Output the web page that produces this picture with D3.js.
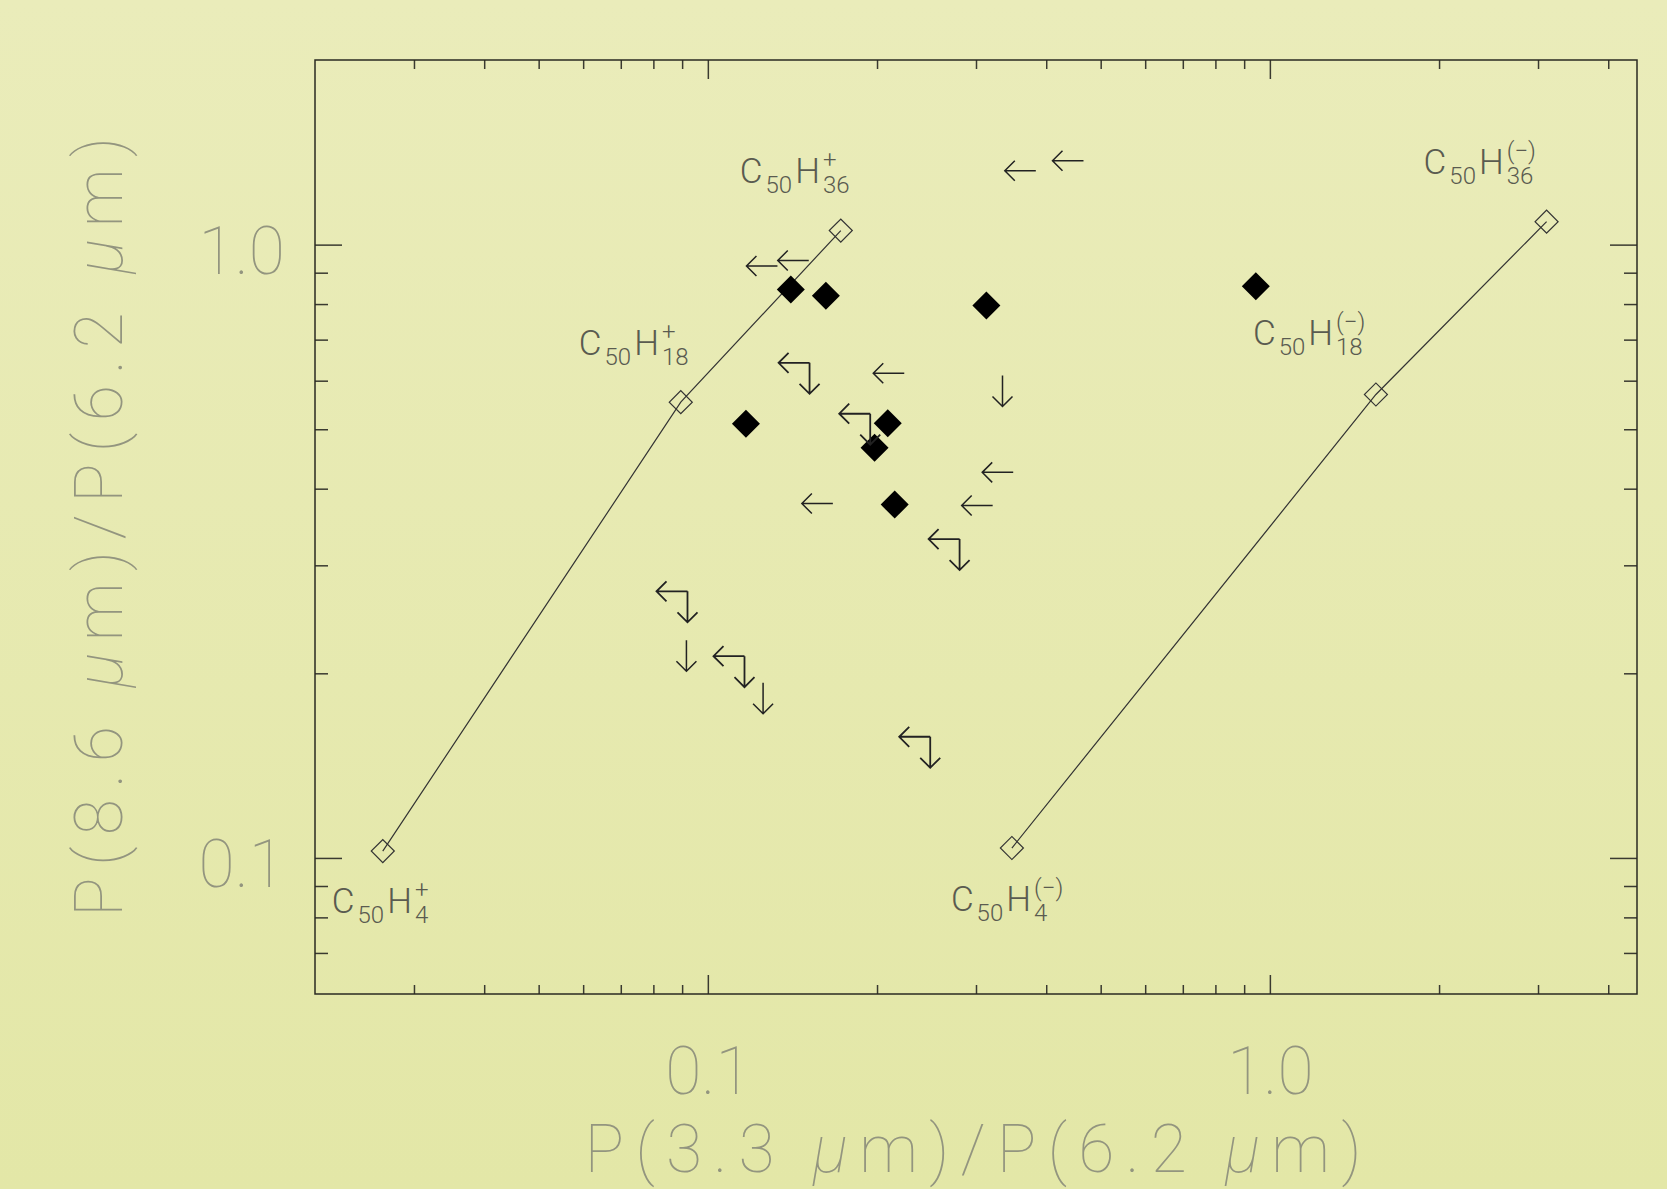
<!DOCTYPE html>
<html>
<head>
<meta charset="utf-8">
<script src="https://cdn.jsdelivr.net/npm/d3@7"></script>
<style>
  body { margin: 0; }
  svg { display: block; }
</style>
</head>
<body>
<div class="chart"></div>
<script>
// model tracks (open diamonds joined by lines)
const cationNames = ["4", "18", "36"];
const cationX = [0.0264, 0.0895, 0.1724];
const cationY = [0.1026, 0.5535, 1.054];
const anionNames = ["4", "18", "36"];
const anionX = [0.3475, 1.544, 3.107];
const anionY = [0.1038, 0.5697, 1.090];

// observed sources (filled diamonds)
const obsX = [0.1405, 0.1622, 0.313, 0.944, 0.1169, 0.209, 0.198, 0.215];
const obsY = [0.845, 0.825, 0.7955, 0.855, 0.5105, 0.5116, 0.4665, 0.3768];

// upper limit in x only (left arrows)
const limXx = [0.3833, 0.4660, 0.1330, 0.1512, 0.2236, 0.3494, 0.3212, 0.1669];
const limXy = [1.320, 1.370, 0.923, 0.942, 0.617, 0.4253, 0.3755, 0.3783];
// upper limit in y only (down arrows)
const limYx = [0.3344, 0.0916, 0.1254];
const limYy = [0.6119, 0.2265, 0.1930];
// upper limits in both
const limBx = [0.1517, 0.1945, 0.2805, 0.0920, 0.1162, 0.2487];
const limBy = [0.6416, 0.530, 0.3311, 0.2721, 0.2133, 0.1576];

// axes ticks
const xMajor = [0.1, 1];
const xMinor = [0.03, 0.04, 0.05, 0.06, 0.07, 0.08, 0.09, 0.2, 0.3, 0.4, 0.5, 0.6, 0.7, 0.8, 0.9, 2, 3, 4];
const yMajor = [0.1, 1];
const yMinor = [0.07, 0.08, 0.09, 0.2, 0.3, 0.4, 0.5, 0.6, 0.7, 0.8, 0.9];
const tickText = {0.1: "0.1", 1: "1.0"};

const width = 1667;
const height = 1189;
const margin = {top: 60, right: 30, bottom: 195, left: 315};

const svg = d3.select(".chart")
  .append("svg")
    .attr("width", width)
    .attr("height", height);

// page background gradient
const grad = svg.append("defs").append("linearGradient")
  .attr("id", "bg").attr("x1", 0).attr("y1", 0).attr("x2", 0).attr("y2", 1);
grad.append("stop").attr("offset", "0%").attr("stop-color", "#eaecba");
grad.append("stop").attr("offset", "100%").attr("stop-color", "#e3e7a7");
svg.append("rect").attr("width", width).attr("height", height).attr("fill", "url(#bg)");

const x = d3.scaleLog()
  .domain([0.02, 4.5])
  .range([margin.left, width - margin.right]);
const y = d3.scaleLog()
  .domain([0.06, 2.0])
  .range([height - margin.bottom, margin.top]);

const x0 = x.range()[0], x1 = x.range()[1];
const y0 = y.range()[1], y1 = y.range()[0];

const textGray = "#93957f";
const bigFont = "Roboto, 'DejaVu Sans', sans-serif";

// ticks pointing inside on every side
function tickAxis(axis, transform) {
  const g = svg.append("g")
    .attr("transform", transform)
    .call(axis);
  g.select(".domain").remove();
  g.selectAll("line").attr("stroke", "#3a3a30").attr("stroke-width", 1.5);
  return g;
}
tickAxis(d3.axisBottom(x).tickValues(xMinor).tickSize(-9).tickFormat(""), `translate(0,${y1})`);
tickAxis(d3.axisTop(x).tickValues(xMinor).tickSize(-9).tickFormat(""), `translate(0,${y0})`);
tickAxis(d3.axisTop(x).tickValues(xMajor).tickSize(-19).tickFormat(""), `translate(0,${y0})`);
tickAxis(d3.axisLeft(y).tickValues(yMinor).tickSize(-13).tickFormat(""), `translate(${x0},0)`);
tickAxis(d3.axisRight(y).tickValues(yMinor).tickSize(-13).tickFormat(""), `translate(${x1},0)`);
tickAxis(d3.axisRight(y).tickValues(yMajor).tickSize(-27).tickFormat(""), `translate(${x1},0)`);

const xAx = tickAxis(d3.axisBottom(x).tickValues(xMajor).tickSize(-19).tickPadding(53)
  .tickFormat(d => tickText[d]), `translate(0,${y1})`);
const yAx = tickAxis(d3.axisLeft(y).tickValues(yMajor).tickSize(-27).tickPadding(30)
  .tickFormat(d => tickText[d]), `translate(${x0},0)`);
[xAx, yAx].forEach(g => g.selectAll("text")
  .attr("fill", textGray)
  .style("font-family", bigFont)
  .style("font-weight", 100)
  .style("font-size", "66px"));
yAx.selectAll("text").attr("dy", "0.43em");

// frame
svg.append("rect")
  .attr("x", x0).attr("y", y0)
  .attr("width", x1 - x0).attr("height", y1 - y0)
  .attr("fill", "none")
  .attr("stroke", "#2a2a22")
  .attr("stroke-width", 1.5);

// axis titles
function title(sel, a, b) {
  sel.append("tspan").text(a);
  sel.append("tspan").style("font-style", "italic").text("\u03bc");
  sel.append("tspan").text(b);
  sel.append("tspan").style("font-style", "italic").text("\u03bc");
  sel.append("tspan").text("m)");
}
const xt = svg.append("text")
  .attr("x", 973).attr("y", 1172)
  .attr("text-anchor", "middle")
  .attr("textLength", 777).attr("lengthAdjust", "spacing")
  .attr("fill", textGray)
  .style("font-family", bigFont).style("font-weight", 100).style("font-size", "66px");
title(xt, "P(3.3 ", "m)/P(6.2 ");

const yt = svg.append("text")
  .attr("transform", "translate(122,527) rotate(-90)")
  .attr("text-anchor", "middle")
  .attr("textLength", 780).attr("lengthAdjust", "spacing")
  .attr("fill", textGray)
  .style("font-family", bigFont).style("font-weight", 100).style("font-size", "66px");
title(yt, "P(8.6 ", "m)/P(6.2 ");

// model tracks
const line = d3.line().x(d => x(d[0])).y(d => y(d[1]));
const tracks = [
  {charge: "+", names: cationNames, pts: d3.zip(cationX, cationY)},
  {charge: "(\u2212)", names: anionNames, pts: d3.zip(anionX, anionY)}
];
const openDiamond = d3.symbol().type(d3.symbolSquare).size(265);
tracks.forEach(t => {
  svg.append("path")
    .attr("d", line(t.pts))
    .attr("fill", "none")
    .attr("stroke", "#333")
    .attr("stroke-width", 1.2);
  svg.selectAll(null)
    .data(t.pts)
    .enter()
    .append("path")
      .attr("d", openDiamond)
      .attr("transform", d => `translate(${x(d[0])},${y(d[1])}) rotate(45)`)
      .attr("fill", "none")
      .attr("stroke", "#333")
      .attr("stroke-width", 1.2);
});

// molecule labels, offset from their model point
const labelOffsets = [
  [[-51, 62], [-102, -47], [-101, -48]],
  [[-61, 63], [-123, -49], [-123, -48]]
];
const labelColor = "#5a5b50";
const labelFont = "Roboto, 'DejaVu Sans', sans-serif";
function molLabel(px, py, nH, charge) {
  const g = svg.append("g");
  let cx = px;
  const piece = (txt, size, dy) => {
    const t = g.append("text")
      .attr("x", cx).attr("y", py + dy)
      .attr("fill", labelColor)
      .style("font-family", labelFont)
      .style("font-weight", 300)
      .style("font-size", size + "px")
      .text(txt);
    return t.node().getComputedTextLength();
  };
  cx += piece("C", 35, 0) + 3;
  cx += piece("50", 24, 10) + 3;
  cx += piece("H", 35, 0) + 3;
  const wc = piece(charge, 24, -15);
  const wn = piece(nH, 24, 10);
}
tracks.forEach((t, ti) => {
  t.pts.forEach((d, i) => {
    const off = labelOffsets[ti][i];
    molLabel(x(d[0]) + off[0], y(d[1]) + off[1], t.names[i], t.charge);
  });
});

// observed sources
const filledDiamond = d3.symbol().type(d3.symbolSquare).size(392);
svg.selectAll(null)
  .data(d3.zip(obsX, obsY))
  .enter()
  .append("path")
    .attr("d", filledDiamond)
    .attr("transform", d => `translate(${x(d[0])},${y(d[1])}) rotate(45)`)
    .attr("fill", "#000");

// upper limit arrows
const arrowLen = 31, head = 10;
const leftArrow = (px, py) =>
  `M${px},${py}h${-arrowLen}M${px - arrowLen + head},${py - head}L${px - arrowLen},${py}L${px - arrowLen + head},${py + head}`;
const downArrow = (px, py) =>
  `M${px},${py}v${arrowLen}M${px - head},${py + arrowLen - head}L${px},${py + arrowLen}L${px + head},${py + arrowLen - head}`;

const arrows = svg.append("g")
  .attr("fill", "none")
  .attr("stroke", "#222")
  .attr("stroke-width", 1.5);
arrows.selectAll(null)
  .data(d3.zip(limXx, limXy))
  .enter()
  .append("path")
    .attr("d", d => leftArrow(x(d[0]), y(d[1])));
arrows.selectAll(null)
  .data(d3.zip(limYx, limYy))
  .enter()
  .append("path")
    .attr("d", d => downArrow(x(d[0]), y(d[1])));
arrows.selectAll(null)
  .data(d3.zip(limBx, limBy))
  .enter()
  .append("path")
    .attr("d", d => leftArrow(x(d[0]), y(d[1])) + downArrow(x(d[0]), y(d[1])))
    .attr("stroke-width", 1.8);
</script>
</body>
</html>
